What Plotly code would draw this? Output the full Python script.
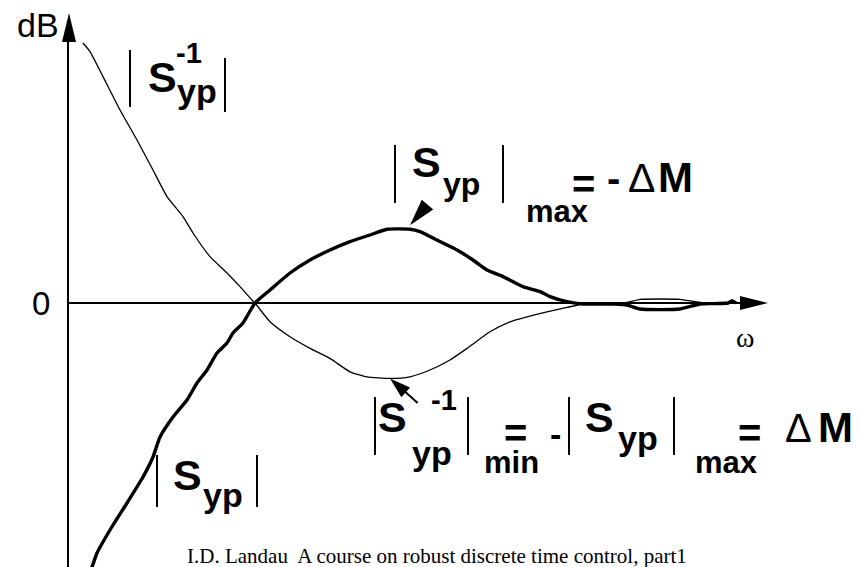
import math
import plotly.graph_objects as go

# |S_yp| in dB against normalised frequency (thick curve)
W_SYP = [0.19, 0.23, 0.28, 0.41, 0.58, 0.74, 0.84, 0.91, 1.04, 1.18,
         1.28, 1.38, 1.48, 1.58, 1.64, 1.74, 1.86, 2.01, 2.21, 2.41,
         2.61, 2.81, 3.01, 3.18, 3.41, 3.51, 3.71, 3.88, 4.04, 4.18,
         4.34, 4.54, 4.71, 4.81, 4.98, 5.14, 5.31, 5.46, 5.58, 5.71,
         5.91, 6.11, 6.31, 6.46, 6.59, 6.63, 6.67]
DB_SYP = [-13.6, -13.2, -12.5, -11.35, -10.0, -8.7, -7.7, -6.7, -5.7, -4.85,
          -4.0, -3.35, -2.5, -2.0, -1.5, -1.0, 0.0, 0.65, 1.5, 2.15,
          2.65, 3.07, 3.4, 3.69, 3.69, 3.57, 3.07, 2.65, 2.15, 1.65,
          1.32, 0.82, 0.57, 0.32, 0.07, -0.05, -0.05, -0.05, -0.1, -0.3,
          -0.33, -0.3, -0.05, -0.03, 0.0, 0.12, 0.0]

# |S_yp^-1| in dB (thin curve)
W_SINV = [0.14, 0.21, 0.34, 0.51, 0.68, 0.84, 0.98, 1.14, 1.24, 1.41,
          1.58, 1.71, 1.83, 1.86, 2.01, 2.21, 2.41, 2.61, 2.81, 2.98,
          3.21, 3.41, 3.61, 3.81, 3.98, 4.21, 4.41, 4.58, 4.78, 4.98,
          5.14, 5.31, 5.58, 5.71, 5.91, 6.11, 6.31, 6.51, 6.66]
DB_SINV = [13.0, 12.57, 11.32, 9.65, 8.15, 6.65, 5.32, 4.32, 3.5, 2.32,
           1.5, 0.82, 0.15, 0.0, -0.94, -1.69, -2.27, -2.77, -3.44, -3.69,
           -3.77, -3.69, -3.35, -2.85, -2.27, -1.44, -0.94, -0.69, -0.44, -0.22,
           -0.05, 0.0, 0.03, 0.18, 0.2, 0.18, 0.03, 0.0, 0.0]

Y_TICKS = [0]
Y_TICK_TEXT = ["0"]

PEAK_W = 3.41          # where the max-arrow touches |S_yp|
FOOTER = "I.D. Landau\u00a0 A course on robust discrete time control, part1"

FIG_W, FIG_H = 858, 567
LEFT, RIGHT, TOP = 69, 740, 42
X_RANGE = [0, 6.71]
Y_RANGE = [-13.2, 13.05]

SANS = "Liberation Sans, Arial, sans-serif"
SERIF = "Liberation Serif, Times New Roman, serif"


def px(x):
    return (x - LEFT) / (RIGHT - LEFT)


def py(y):
    return (FIG_H - y) / (FIG_H - TOP)


def label(text, x, base, size, bold=True, family=SANS, xanchor="center"):
    centre = base - 0.35 * size
    return dict(text=f"<b>{text}</b>" if bold else text,
                x=px(x), y=py(centre), xref="paper", yref="paper",
                xanchor=xanchor, yanchor="middle", showarrow=False,
                font=dict(family=family, size=size, color="black"))


def head_path(dx, dy, length, width, tip_up=0.0):
    """Filled triangle; tip at the anchor, (dx, dy) points to the tail in screen px."""
    n = math.hypot(dx, dy)
    ux, uy = dx / n, dy / n
    tx, ty = 0.0, -tip_up
    bx, by = tx + ux * length, ty + uy * length
    hx, hy = -uy * width / 2, ux * width / 2
    pts = [(tx, ty), (bx + hx, by + hy), (bx - hx, by - hy)]
    return "M" + " L".join(f"{x:.2f},{-y:.2f}" for x, y in pts) + " Z"


fig = go.Figure()
fig.add_trace(go.Scatter(x=W_SINV, y=DB_SINV, mode="lines",
                         line=dict(color="black", width=1.3, shape="spline", smoothing=0.5),
                         hoverinfo="skip"))
fig.add_trace(go.Scatter(x=W_SYP, y=DB_SYP, mode="lines",
                         line=dict(color="black", width=3.4, shape="spline", smoothing=0.5),
                         hoverinfo="skip"))

shapes = []
# axis arrowheads
shapes.append(dict(type="path", xref="paper", yref="paper", xsizemode="pixel", ysizemode="pixel",
                   xanchor=px(69), yanchor=py(13), path="M0,0 L-7,-29 L7,-29 Z",
                   fillcolor="black", line=dict(width=0)))
shapes.append(dict(type="path", xref="paper", yref="paper", xsizemode="pixel", ysizemode="pixel",
                   xanchor=px(768), yanchor=py(303), path="M0,0 L-28,7 L-28,-7 Z",
                   fillcolor="black", line=dict(width=0)))

# arrow onto the maximum of |S_yp|
shapes.append(dict(type="path", xref="x", yref="y", xsizemode="pixel", ysizemode="pixel",
                   xanchor=PEAK_W, yanchor=max(DB_SYP),
                   path=head_path(17, -20, 27, 15, tip_up=4),
                   fillcolor="black", line=dict(width=0)))
# arrow onto the minimum of |S_yp^-1|
i_min = DB_SINV.index(min(DB_SINV))
shapes.append(dict(type="path", xref="x", yref="y", xsizemode="pixel", ysizemode="pixel",
                   xanchor=W_SINV[i_min], yanchor=DB_SINV[i_min],
                   path=head_path(27, 24, 21, 13),
                   fillcolor="black", line=dict(width=0)))
ux, uy = 27 / 36.1, 24 / 36.1
shapes.append(dict(type="line", xref="x", yref="y", xsizemode="pixel", ysizemode="pixel",
                   xanchor=W_SINV[i_min], yanchor=DB_SINV[i_min],
                   x0=ux * 18, y0=-uy * 18, x1=ux * 37, y1=-uy * 37,
                   line=dict(color="black", width=2)))

# absolute-value bars
BARS = [(130, 50, 107), (225, 58, 112),
        (395, 145, 203), (503, 145, 203),
        (375, 397, 455), (468, 397, 455), (569, 397, 455), (674, 397, 455),
        (157, 455, 507), (257, 455, 507)]
for bx, y0, y1 in BARS:
    shapes.append(dict(type="line", xref="paper", yref="paper",
                       x0=px(bx), x1=px(bx), y0=py(y0), y1=py(y1),
                       line=dict(color="black", width=2)))

annotations = [
    label("dB", 37.5, 37, 34, bold=False),
    label("\u03c9", 745, 347, 28, bold=False, family=SERIF),
    label(FOOTER, 185, 563.5, 21, bold=False, family=SERIF, xanchor="left"),
    # |S_yp^-1|
    label("S", 162, 92, 43), label("-1", 188.5, 63, 29), label("yp", 197, 103, 34),
    # |S_yp|max = -ΔM
    label("S", 426, 177, 43), label("yp", 461, 195, 32), label("max", 557, 222, 31),
    label("=", 583, 197.5, 40), label("-", 613.5, 192, 40),
    label("\u0394", 641.5, 192, 41, bold=False), label("M", 675, 192, 42),
    # |S_yp^-1|min = -|S_yp|max = ΔM
    label("S", 392.5, 432, 43), label("-1", 443.5, 410, 29), label("yp", 432, 465, 34),
    label("min", 511.5, 473, 31), label("=", 515, 446.5, 40), label("-", 555, 446, 34),
    label("S", 599.5, 432, 43), label("yp", 637.5, 450, 34), label("max", 726.5, 473, 31),
    label("=", 749, 446.5, 40),
    label("\u0394", 798.5, 442, 40, bold=False), label("M", 835.5, 442, 42),
    # |S_yp|
    label("S", 187.5, 490, 43), label("yp", 222.5, 507, 34),
]

fig.update_layout(
    width=FIG_W, height=FIG_H,
    margin=dict(l=LEFT, r=FIG_W - RIGHT, t=TOP, b=0, pad=0),
    paper_bgcolor="white", plot_bgcolor="white",
    showlegend=False,
    shapes=shapes,
    annotations=annotations,
    xaxis=dict(range=X_RANGE, showline=False, showgrid=False, zeroline=False,
               showticklabels=False, ticks="", fixedrange=True),
    yaxis=dict(range=Y_RANGE, showline=True, linewidth=2, linecolor="black",
               showgrid=False, zeroline=True, zerolinewidth=2, zerolinecolor="black",
               tickmode="array", tickvals=Y_TICKS, ticktext=Y_TICK_TEXT, ticks="",
               tickfont=dict(family=SANS, size=33, color="black"),
               ticklabelstandoff=10, fixedrange=True),
)

fig.write_html("out.html")
